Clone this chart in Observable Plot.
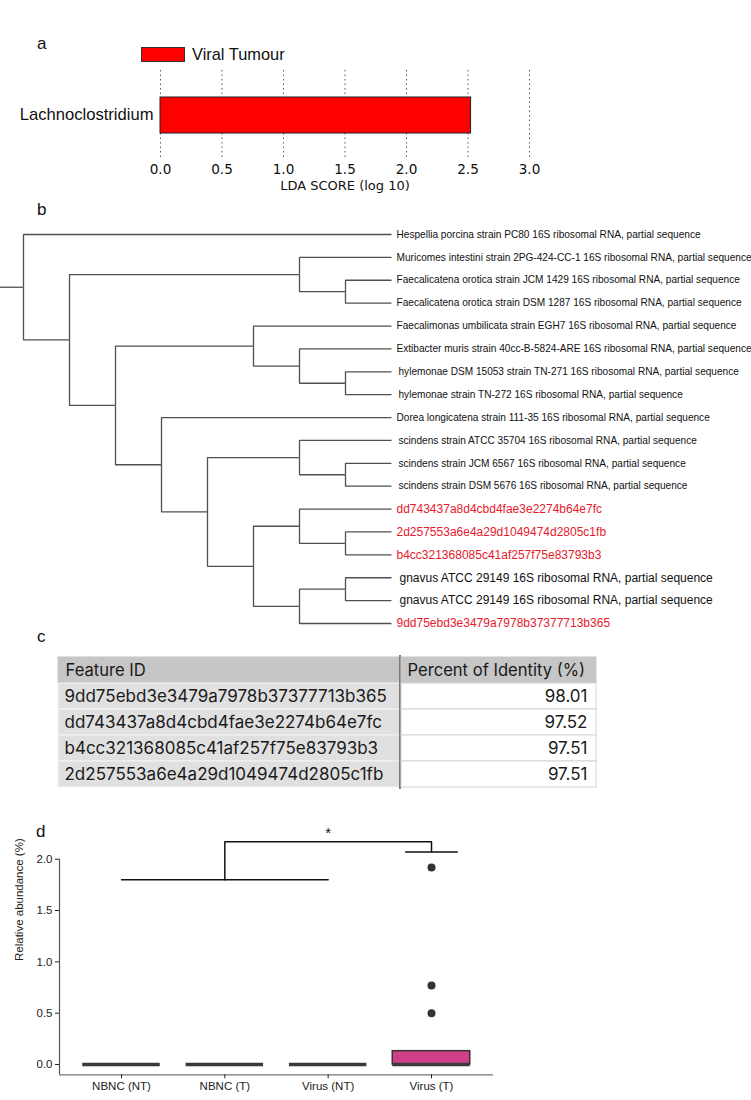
<!DOCTYPE html>
<html><head><meta charset="utf-8">
<script src="https://cdn.jsdelivr.net/npm/d3@7"></script>
<script src="https://cdn.jsdelivr.net/npm/@observablehq/plot@0.6"></script>
<style>
body{margin:0;background:#fff;}
#root{position:relative;width:751px;height:1100px;overflow:hidden;font-family:"Liberation Sans",Arial,sans-serif;color:#111;}
.abs{position:absolute;}
.letter{position:absolute;font-size:17px;line-height:1;color:#111;}
.legend{position:absolute;left:141px;top:47px;display:flex;align-items:center;font-size:16.4px;height:15px;}
.legend .sw{width:42px;height:13px;background:#ff0000;border:1px solid #333;margin-right:7px;}
svg{overflow:visible;}
</style></head><body><div id="root"></div>
<script>
// ---------- Panel a: LEfSe ----------
const ldaTaxa = ["Lachnoclostridium"];
const ldaScores = [2.525];
const ldaTicks = [0, 0.5, 1, 1.5, 2, 2.5, 3];
const ldaGroup = "Viral Tumour";
const ldaAxisLabel = "LDA SCORE (log 10)";

// ---------- Panel b: tree ----------
const treeIds =     ["root","L01","n1","n2","L02","n3","L03","L04","n4","n5","L05","n6","L06","n7","L07","L08","n8","L09","n9","n10","L10","n11","L11","L12","n12","n13","L13","n14","L14","L15","n15","n16","L16","L17","L18"];
const treeParents = ["",    "root","root","n1","n2","n2","n3","n3","n1","n4","n5","n5","n6","n6","n7","n7","n4","n8","n8","n9","n10","n10","n11","n11","n9","n12","n13","n13","n14","n14","n12","n15","n16","n16","n15"];
const leafIds = ["L01","L02","L03","L04","L05","L06","L07","L08","L09","L10","L11","L12","L13","L14","L15","L16","L17","L18"];
const leafLabels = [
  "Hespellia porcina strain PC80 16S ribosomal RNA, partial sequence",
  "Muricomes intestini strain 2PG-424-CC-1 16S ribosomal RNA, partial sequence",
  "Faecalicatena orotica strain JCM 1429 16S ribosomal RNA, partial sequence",
  "Faecalicatena orotica strain DSM 1287 16S ribosomal RNA, partial sequence",
  "Faecalimonas umbilicata strain EGH7 16S ribosomal RNA, partial sequence",
  "Extibacter muris strain 40cc-B-5824-ARE 16S ribosomal RNA, partial sequence",
  "hylemonae DSM 15053 strain TN-271 16S ribosomal RNA, partial sequence",
  "hylemonae strain TN-272 16S ribosomal RNA, partial sequence",
  "Dorea longicatena strain 111-35 16S ribosomal RNA, partial sequence",
  "scindens strain ATCC 35704 16S ribosomal RNA, partial sequence",
  "scindens strain JCM 6567 16S ribosomal RNA, partial sequence",
  "scindens strain DSM 5676 16S ribosomal RNA, partial sequence",
  "dd743437a8d4cbd4fae3e2274b64e7fc",
  "2d257553a6e4a29d1049474d2805c1fb",
  "b4cc321368085c41af257f75e83793b3",
  "gnavus ATCC 29149 16S ribosomal RNA, partial sequence",
  "gnavus ATCC 29149 16S ribosomal RNA, partial sequence",
  "9dd75ebd3e3479a7978b37377713b365"
];
const leafKind = ["ref","ref","ref","ref","ref","ref","indent","indent","ref","indent","indent","indent","asv","asv","asv","gnavus","gnavus","asv"];

// ---------- Panel c: table ----------
const tableHeader = ["Feature ID", "Percent of Identity (%)"];
const featureIds = ["9dd75ebd3e3479a7978b37377713b365","dd743437a8d4cbd4fae3e2274b64e7fc","b4cc321368085c41af257f75e83793b3","2d257553a6e4a29d1049474d2805c1fb"];
const identity = ["98.01","97.52","97.51","97.51"];

// ---------- Panel d: boxplot ----------
const groups = ["NBNC (NT)","NBNC (T)","Virus (NT)","Virus (T)"];
const q1 = [0, 0, 0, 0];
const med = [0, 0, 0, 0];
const q3 = [0, 0, 0, 0.13];
const outlierGroup = ["Virus (T)","Virus (T)","Virus (T)"];
const outlierValue = [1.92, 0.77, 0.50];
const yTicksD = [0, 0.5, 1, 1.5, 2];
const yLabelD = "Relative abundance (%)";
const sigLeft = ["NBNC (NT)","Virus (NT)"], sigRef = "NBNC (T)", sigRight = "Virus (T)";
const sigLowY = 1.8, sigTopY = 2.17, sigRightY = 2.07, sigStarY = 2.25, sigMark = "*";

// ======================================================
const root = document.getElementById("root");
function place(el, left, top){ const d=document.createElement("div"); d.className="abs"; d.style.left=left+"px"; d.style.top=top+"px"; d.appendChild(el); root.appendChild(d); return d; }
function letter(t, left, top){ const d=document.createElement("div"); d.className="letter"; d.textContent=t; d.style.left=left+"px"; d.style.top=top+"px"; root.appendChild(d); }

// ---- a ----
const ldaData = ldaTaxa.map((t,i)=>({taxon:t, score:ldaScores[i]}));
const plotA = Plot.plot({
  width: 751, height: 200,
  marginLeft: 160, marginRight: 222, marginTop: 70, marginBottom: 42,
  x: {domain: [ldaTicks[0], ldaTicks[ldaTicks.length-1]]},
  y: {domain: ldaTaxa, padding: 0},
  style: {fontFamily: "DejaVu Sans", fontSize: "13.6px", color: "#111", background: "transparent"},
  marks: [
    Plot.ruleX(ldaTicks, {stroke: "#444", strokeWidth: 0.9, strokeDasharray: "1.5,3"}),
    Plot.barX(ldaData, {x: "score", y: "taxon", fill: "#ff0000", stroke: "#222", strokeWidth: 1, insetTop: 27, insetBottom: 25}),
    Plot.axisX({ticks: ldaTicks, tickSize: 0, tickPadding: 6, tickFormat: d3.format(".1f"), label: null}),
    Plot.axisY({tickSize: 0, tickPadding: 7, fontSize: 16.6, fontFamily: "Liberation Sans", label: null}),
    Plot.text([ldaAxisLabel], {frameAnchor: "bottom", dy: 31, fontSize: 13})
  ]
});
place(plotA, 0, 0);
letter("a", 37, 35);
const lg = document.createElement("div"); lg.className="legend";
lg.innerHTML = '<div class="sw"></div><span>'+ldaGroup+'</span>';
root.appendChild(lg);

// ---- b ----
const treeTable = treeIds.map((id,i)=>({id, parent: treeParents[i] || null}));
const h = d3.stratify().id(d=>d.id).parentId(d=>d.parent)(treeTable);
d3.cluster().nodeSize([1,1]).separation(()=>1)(h);
const x0 = d3.min(h.leaves(), d=>d.x);
const links = h.links().map(l=>({x1:l.source.y, y1:l.source.x-x0, x2:l.target.y, y2:l.target.x-x0}));
const nodeById = new Map(h.descendants().map(n=>[n.id, n]));
const leafData = leafIds.map((id,i)=>{ const n=nodeById.get(id); return {x:n.y, y:n.x-x0, label:leafLabels[i], kind:leafKind[i]}; });
const depthMax = h.height;
const stubStart = -0.5;
const plotB = Plot.plot({
  width: 751, height: 440,
  marginLeft: 0, marginRight: 360, marginTop: 34, marginBottom: 17,
  x: {domain: [stubStart, depthMax], axis: null},
  y: {domain: [0, leafIds.length-1], reverse: true, axis: null},
  style: {fontFamily: "Liberation Sans", background: "transparent"},
  marks: [
    Plot.link(links, {x1:"x1", y1:"y1", x2:"x2", y2:"y2", curve: "step-before", stroke: "#505050", strokeWidth: 1.3}),
    Plot.ruleY([h.x - x0], {x1: stubStart, x2: h.y, stroke: "#505050", strokeWidth: 1.3}),
    Plot.text(leafData.filter(d=>d.kind==="ref"), {x:"x", y:"y", text:"label", textAnchor:"start", dx:5, fontSize:10.1, fill:"#111"}),
    Plot.text(leafData.filter(d=>d.kind==="indent"), {x:"x", y:"y", text:"label", textAnchor:"start", dx:7, fontSize:10.1, fill:"#111"}),
    Plot.text(leafData.filter(d=>d.kind==="gnavus"), {x:"x", y:"y", text:"label", textAnchor:"start", dx:8, fontSize:12, fill:"#111"}),
    Plot.text(leafData.filter(d=>d.kind==="asv"), {x:"x", y:"y", text:"label", textAnchor:"start", dx:5, fontSize:12, fill:"#e8192c"})
  ]
});
place(plotB, 0, 200);
letter("b", 37, 201);

// ---- c ----
const leftRows = [{key:"hdr", text: tableHeader[0]}].concat(featureIds.map(id=>({key:id, text:id})));
const rightRows = [{key:"hdr", text: tableHeader[1]}].concat(identity.map((v,i)=>({key:"r"+i, text:v})));
const tblH = 134;
const tblFont = "Inter";
const plotC1 = Plot.plot({
  width: 342, height: tblH, margin: 0,
  y: {domain: leftRows.map(d=>d.key), padding: 0, axis: null},
  style: {fontFamily: tblFont, color: "#1a1a1a", background: "transparent"},
  marks: [
    Plot.cell(leftRows.slice(0,1), {y:"key", fill:"#c6c6c6", stroke:"#c6c6c6"}),
    Plot.cell(leftRows.slice(1), {y:"key", fill:"#e0e0e0", stroke:"#f4f4f4", strokeWidth:1}),
    Plot.text(leftRows.slice(0,1), {y:"key", text:"text", frameAnchor:"left", textAnchor:"start", dx:7, fontSize:16.6, fill:"#1a1a1a"}),
    Plot.text(leftRows.slice(1), {y:"key", text:"text", frameAnchor:"left", textAnchor:"start", dx:6, fontSize:17, fill:"#1a1a1a"})
  ]
});
const plotC2 = Plot.plot({
  width: 195, height: tblH, margin: 0,
  y: {domain: rightRows.map(d=>d.key), padding: 0, axis: null},
  style: {fontFamily: tblFont, color: "#1a1a1a", background: "transparent"},
  marks: [
    Plot.cell(rightRows.slice(0,1), {y:"key", fill:"#c6c6c6", stroke:"#c6c6c6"}),
    Plot.cell(rightRows.slice(1), {y:"key", fill:"#ffffff", stroke:"#d4d4d4", strokeWidth:1}),
    Plot.text(rightRows.slice(0,1), {y:"key", text:"text", frameAnchor:"left", textAnchor:"start", dx:6, fontSize:16.6, fill:"#1a1a1a"}),
    Plot.text(rightRows.slice(1), {y:"key", text:"text", frameAnchor:"right", textAnchor:"end", dx:-9, fontSize:17, fill:"#1a1a1a"})
  ]
});
place(plotC1, 58, 655);
const c2 = place(plotC2, 400, 655);
c2.style.borderLeft = "2px solid #7a7a7a"; c2.style.height = tblH + "px";
c2.style.marginLeft = "-1px";
letter("c", 37, 628);

// ---- d ----
const boxData = groups.map((g,i)=>({g, i, q1:q1[i], med:med[i], q3:q3[i]}));
const outliers = outlierGroup.map((g,j)=>({i: groups.indexOf(g), v: outlierValue[j]}));
const halfBox = 0.375, xPad = 0.6;
const xDomD = [-xPad, groups.length - 1 + xPad];
const yDomD = [-0.1, yTicksD[yTicksD.length-1]];
const iL0 = groups.indexOf(sigLeft[0]), iL1 = groups.indexOf(sigLeft[1]), iRef = groups.indexOf(sigRef), iR = groups.indexOf(sigRight);
const bracket = [
  {k:"low", x:iL0, y:sigLowY}, {k:"low", x:iL1, y:sigLowY},
  {k:"top", x:iRef, y:sigLowY}, {k:"top", x:iRef, y:sigTopY}, {k:"top", x:iR, y:sigTopY}, {k:"top", x:iR, y:sigRightY},
  {k:"right", x:iR-0.25, y:sigRightY}, {k:"right", x:iR+0.25, y:sigRightY}
];
const plotD = Plot.plot({
  width: 751, height: 300,
  marginLeft: 59, marginRight: 258, marginTop: 58.7, marginBottom: 25.7,
  x: {domain: xDomD},
  y: {domain: yDomD},
  style: {fontFamily: "Liberation Sans", fontSize: "11.5px", color: "#222", background: "transparent"},
  marks: [
    Plot.ruleX([xDomD[0]], {stroke: "#555", strokeWidth: 1.2}),
    Plot.ruleY([yDomD[0]], {stroke: "#777", strokeWidth: 1.2}),
    Plot.axisY({ticks: yTicksD, tickFormat: d3.format(".1f"), tickSize: 4, tickPadding: 3, label: null}),
    Plot.axisX({ticks: groups.map((g,i)=>i), tickFormat: i=>groups[i], tickSize: 4, tickPadding: 3, label: null}),
    Plot.rect(boxData, {x1: d=>d.i-halfBox, x2: d=>d.i+halfBox, y1: "q1", y2: "q3", fill: "#d0408a", stroke: "#333", strokeWidth: 1.5}),
    Plot.ruleY(boxData, {x1: d=>d.i-halfBox, x2: d=>d.i+halfBox, y: "med", stroke: "#3a3a3a", strokeWidth: 3.5}),
    Plot.dot(outliers, {x: "i", y: "v", r: 4, fill: "#333", stroke: "none"}),
    Plot.line(bracket, {x: "x", y: "y", z: "k", stroke: "#111", strokeWidth: 1.5}),
    Plot.text([sigMark], {x: iL1, y: sigStarY, fontSize: 15, fill: "#111"}),
    Plot.text([yLabelD], {frameAnchor: "left", rotate: -90, dx: -40, dy: -6, fontSize: 11.5, fill: "#222"})
  ]
});
place(plotD, 0, 800);
letter("d", 36, 823);
</script></body></html>
